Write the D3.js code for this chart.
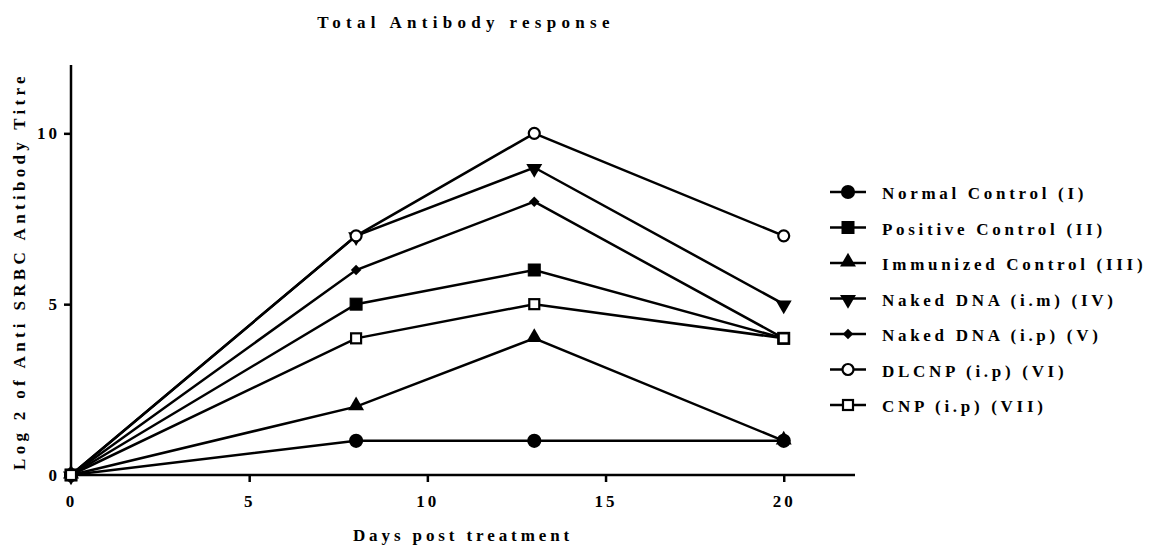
<!DOCTYPE html>
<html>
<head>
<meta charset="utf-8">
<script src="https://cdn.jsdelivr.net/npm/d3@7"></script>
<style>
  body { margin: 0; background: #fff; }
  text { font-family: "Liberation Serif", "Times New Roman", serif; font-weight: bold; fill: #000; }
</style>
</head>
<body>
<svg id="chart"></svg>
<script>
// Days and titres
const days = [0, 8, 13, 20];
const groups = ["Normal Control (I)", "Positive Control (II)", "Immunized Control (III)",
                "Naked DNA (i.m) (IV)", "Naked DNA (i.p) (V)", "DLCNP (i.p) (VI)", "CNP (i.p) (VII)"];
const normalControl = [0, 1, 1, 1];
const positiveControl = [0, 5, 6, 4];
const immunizedControl = [0, 2, 4, 1];
const nakedDnaIm = [0, 7, 9, 5];
const nakedDnaIp = [0, 6, 8, 4];
const dlcnp = [0, 7, 10, 7];
const cnp = [0, 4, 5, 4];
const xTicks = [0, 5, 10, 15, 20];
const yTicks = [0, 5, 10];

const seriesValues = [normalControl, positiveControl, immunizedControl, nakedDnaIm, nakedDnaIp, dlcnp, cnp];
const markers = ["circle", "square", "triangle", "triangleDown", "diamond", "circleOpen", "squareOpen"];

const width = 1153, height = 547;
const svg = d3.select("#chart").attr("width", width).attr("height", height);

const x = d3.scaleLinear().domain([0, 22]).range([71, 855]);
const y = d3.scaleLinear().domain([0, 12]).range([475, 65]);

// Marker drawing
function drawMarker(g, type, cx, cy) {
    const t = `translate(${cx},${cy})`;
    if (type === "circle" || type === "circleOpen") {
        g.append("circle").attr("cx", cx).attr("cy", cy).attr("r", type === "circle" ? 6 : 5.5)
         .attr("fill", type === "circle" ? "#000" : "#fff")
         .attr("stroke", "#000").attr("stroke-width", 2.2);
    } else if (type === "square" || type === "squareOpen") {
        const s = type === "square" ? 12 : 10;
        g.append("rect").attr("x", cx - s / 2).attr("y", cy - s / 2).attr("width", s).attr("height", s)
         .attr("fill", type === "square" ? "#000" : "#fff")
         .attr("stroke", "#000").attr("stroke-width", type === "square" ? 1 : 2.2);
    } else if (type === "triangle") {
        g.append("path").attr("d", d3.symbol(d3.symbolTriangle, 110)()).attr("transform", t + " translate(0,-1)");
    } else if (type === "triangleDown") {
        g.append("path").attr("d", d3.symbol(d3.symbolTriangle, 110)()).attr("transform", t + " translate(0,1) rotate(180)");
    } else if (type === "diamond") {
        g.append("path").attr("d", d3.symbol(d3.symbolDiamond2, 70)()).attr("transform", t);
    }
}

// Axes
const xAxis = svg.append("g")
    .attr("transform", `translate(0,${y(0)})`)
    .call(d3.axisBottom(x).tickValues(xTicks).tickSize(7).tickPadding(13).tickFormat(d3.format("d")));
const yAxis = svg.append("g")
    .attr("transform", `translate(${x(0)},0)`)
    .call(d3.axisLeft(y).tickValues(yTicks).tickSize(7).tickPadding(4).tickFormat(d3.format("d")));

[xAxis, yAxis].forEach(a => {
    a.select(".domain").attr("stroke", "#000").attr("stroke-width", 2.5);
    a.selectAll(".tick line").attr("stroke", "#000").attr("stroke-width", 2.5);
    a.selectAll("text").style("font-size", "17px").style("letter-spacing", "3px")
     .style("font-family", "'Liberation Serif', serif").style("font-weight", "bold");
});
yAxis.select(".domain").attr("d", `M0,${y(12)}V${y(0)}`);
xAxis.select(".domain").attr("d", `M${x(0)},0H${x(22)}`);

// Series lines
const line = d3.line().x((d, i) => x(days[i])).y(d => y(d));
const plot = svg.append("g");
seriesValues.forEach(vals => {
    plot.append("path").datum(vals).attr("d", line)
        .attr("fill", "none").attr("stroke", "#000").attr("stroke-width", 2.5);
});
seriesValues.forEach((vals, k) => {
    vals.forEach((v, i) => drawMarker(plot, markers[k], x(days[i]), y(v)));
});

// Titles
svg.append("text").attr("x", 466).attr("y", 28).attr("text-anchor", "middle")
   .style("font-size", "17px").style("letter-spacing", "5.3px").text("Total Antibody response");
svg.append("text").attr("x", 463).attr("y", 541).attr("text-anchor", "middle")
   .style("font-size", "17px").style("letter-spacing", "3.9px").text("Days post treatment");
svg.append("text").attr("transform", "translate(25,271) rotate(-90)").attr("text-anchor", "middle")
   .style("font-size", "17px").style("letter-spacing", "4.3px").text("Log 2 of Anti SRBC Antibody Titre");

// Legend
const legend = svg.append("g");
groups.forEach((name, k) => {
    const ly = 192 + k * 35.5;
    legend.append("line").attr("x1", 830).attr("x2", 866).attr("y1", ly).attr("y2", ly)
          .attr("stroke", "#000").attr("stroke-width", 2.5);
    drawMarker(legend, markers[k], 848, ly);
    legend.append("text").attr("x", 882).attr("y", ly + 7)
          .style("font-size", "17px").style("letter-spacing", "3.7px").text(name);
});
</script>
</body>
</html>
